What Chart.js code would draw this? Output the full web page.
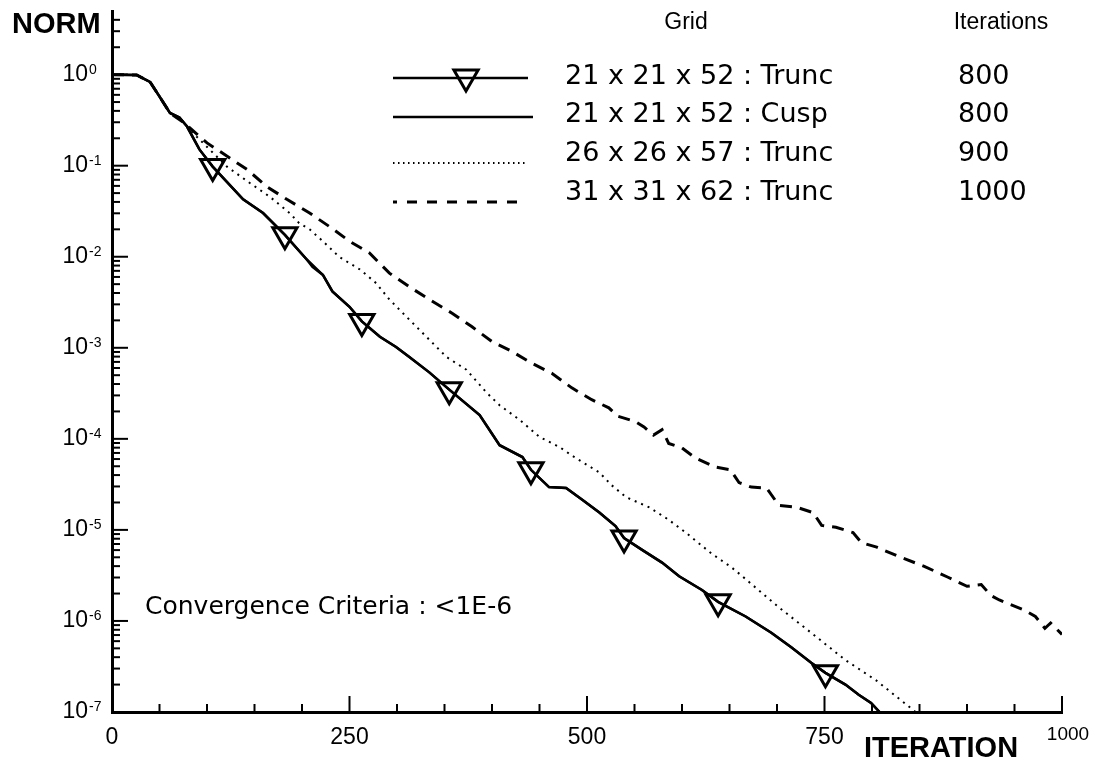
<!DOCTYPE html>
<html>
<head>
<meta charset="utf-8">
<title>Convergence history</title>
<script src="https://cdn.jsdelivr.net/npm/chart.js@4.4.1/dist/chart.umd.min.js"></script>
<style>
    html, body { margin: 0; padding: 0; background: #fff; }
    #wrap { width: 1097px; height: 765px; }
</style>
</head>
<body>
<div id="wrap"><canvas id="normChart" width="1097" height="765"></canvas></div>
<script>
// legend table: grid name + iterations column
const gridLabels = ['21 x 21 x 52 : Trunc', '21 x 21 x 52 : Cusp', '26 x 26 x 57 : Trunc', '31 x 31 x 62 : Trunc'];
const iterationCounts = ['800', '800', '900', '1000'];

// axis ticks
const xTickValues = [0, 250, 500, 750, 1000];
const yTickExponents = [0, -1, -2, -3, -4, -5, -6, -7];

// 21 x 21 x 52 : Trunc (solid, triangle markers)
const truncIter = [0, 26, 40, 50, 61, 71, 79, 92, 106, 138, 159, 182, 205, 211, 222, 232, 250, 263, 282, 299, 313, 334, 355, 387, 408, 432, 441, 460, 478, 495, 513, 530, 539, 558, 579, 597, 621, 638, 667, 694, 715, 736, 751, 772, 786, 799, 808];
const truncNorm = [1, 0.99, 0.832, 0.575, 0.38, 0.339, 0.269, 0.151, 0.0977, 0.0427, 0.0302, 0.0174, 0.00933, 0.00776, 0.00631, 0.00417, 0.00282, 0.00195, 0.00132, 0.00102, 7.94e-4, 5.37e-4, 3.47e-4, 1.82e-4, 8.51e-5, 6.31e-5, 4.57e-5, 2.95e-5, 2.88e-5, 2.14e-5, 1.55e-5, 1.10e-5, 8.13e-6, 6.03e-6, 4.37e-6, 3.09e-6, 2.19e-6, 1.62e-6, 1.12e-6, 7.41e-7, 5.13e-7, 3.47e-7, 2.69e-7, 2.0e-7, 1.55e-7, 1.26e-7, 1.0e-7];
const truncMarkers = [106, 182, 263, 355, 441, 539, 638, 751];

// 21 x 21 x 52 : Cusp (solid, lies on top of the Trunc curve)
const cuspIter = [0, 26, 40, 50, 61, 71, 79, 92, 106, 138, 159, 182, 205, 222, 232, 250, 263, 282, 299, 313, 334, 355, 387, 408, 432, 441, 460, 478, 495, 513, 530, 539, 558, 579, 597, 621, 638, 667, 694, 715, 736, 751, 772, 786, 799, 808];
const cuspNorm = [1, 0.99, 0.832, 0.575, 0.38, 0.339, 0.269, 0.151, 0.0977, 0.0427, 0.0302, 0.0174, 0.00933, 0.00631, 0.00417, 0.00282, 0.00195, 0.00132, 0.00102, 7.94e-4, 5.37e-4, 3.47e-4, 1.82e-4, 8.51e-5, 6.31e-5, 4.57e-5, 2.95e-5, 2.88e-5, 2.14e-5, 1.55e-5, 1.10e-5, 8.13e-6, 6.03e-6, 4.37e-6, 3.09e-6, 2.19e-6, 1.62e-6, 1.12e-6, 7.41e-7, 5.13e-7, 3.47e-7, 2.69e-7, 2.0e-7, 1.55e-7, 1.26e-7, 1.0e-7];

// 26 x 26 x 57 : Trunc (dotted)
const fineIter = [0, 26, 40, 50, 61, 75, 89, 121, 145, 166, 187, 197, 208, 222, 239, 261, 278, 292, 310, 331, 352, 373, 394, 408, 429, 450, 471, 488, 513, 526, 541, 565, 586, 604, 631, 652, 667, 702, 736, 772, 804, 846];
const fineNorm = [1, 0.99, 0.832, 0.575, 0.38, 0.30, 0.209, 0.0977, 0.0646, 0.0457, 0.0302, 0.0234, 0.02, 0.0148, 0.01, 0.00724, 0.00513, 0.00339, 0.00219, 0.00132, 7.94e-4, 5.75e-4, 3.24e-4, 2.34e-4, 1.62e-4, 1.05e-4, 8.13e-5, 6.17e-5, 4.27e-5, 3.09e-5, 2.29e-5, 1.78e-5, 1.29e-5, 9.33e-6, 5.5e-6, 3.89e-6, 2.88e-6, 1.41e-6, 7.41e-7, 3.72e-7, 2.24e-7, 1.0e-7];

// 31 x 31 x 62 : Trunc (dashed)
const finestIter = [0, 26, 40, 50, 61, 75, 100, 142, 163, 184, 208, 229, 250, 271, 292, 313, 334, 358, 379, 400, 421, 442, 463, 484, 505, 523, 532, 551, 560, 570, 579, 586, 600, 614, 635, 651, 660, 673, 689, 702, 720, 738, 747, 762, 780, 789, 805, 830, 855, 880, 900, 915, 925, 934, 960, 972, 982, 988, 1000];
const finestNorm = [1, 0.99, 0.832, 0.575, 0.38, 0.30, 0.178, 0.0912, 0.0589, 0.0427, 0.0302, 0.0214, 0.0148, 0.011, 0.00661, 0.00468, 0.00339, 0.0024, 0.0017, 0.00117, 9.12e-4, 6.76e-4, 5.25e-4, 3.63e-4, 2.69e-4, 2.19e-4, 1.78e-4, 1.55e-4, 1.35e-4, 1.10e-4, 1.26e-4, 8.91e-5, 7.94e-5, 6.17e-5, 4.9e-5, 4.57e-5, 3.31e-5, 2.95e-5, 2.88e-5, 1.86e-5, 1.78e-5, 1.55e-5, 1.12e-5, 1.07e-5, 9.33e-6, 7.24e-6, 6.46e-6, 5.01e-6, 3.98e-6, 3.02e-6, 2.4e-6, 2.51e-6, 1.91e-6, 1.7e-6, 1.32e-6, 1.12e-6, 8.3e-7, 9.5e-7, 7.1e-7];

function toPoints(xs, ys) {
    return xs.map((x, i) => ({ x: x, y: ys[i] }));
}

// legend rows (line y, text y)
const legendLineY = [78, 117, 163, 202];
const legendTextY = [77, 115, 154, 193];

// ticks, tick labels, axis names, legend table, note
const decorPlugin = {
    id: 'decor',
    afterDraw(chart) {
        const ctx = chart.ctx;
        const xs = chart.scales.x;
        const ys = chart.scales.y;
        const area = chart.chartArea;
        ctx.save();
        ctx.strokeStyle = '#000';
        ctx.fillStyle = '#000';
        ctx.lineWidth = 2;
        ctx.setLineDash([]);

        // x ticks point up into the plot
        for (let v = 0; v <= 1000; v += 50) {
            const px = xs.getPixelForValue(v);
            const len = xTickValues.includes(v) ? 16 : 8;
            ctx.beginPath();
            ctx.moveTo(px, area.bottom);
            ctx.lineTo(px, area.bottom - len);
            ctx.stroke();
        }
        // y ticks point right into the plot
        yTickExponents.forEach(e => {
            for (let k = 1; k <= 9; k++) {
                const v = k * Math.pow(10, e);
                if (v >= ys.max) break;
                const py = ys.getPixelForValue(v);
                const len = k === 1 ? 16 : 8;
                ctx.beginPath();
                ctx.moveTo(area.left, py);
                ctx.lineTo(area.left + len, py);
                ctx.stroke();
            }
        });

        // y labels 10^e
        yTickExponents.forEach(e => {
            const py = ys.getPixelForValue(Math.pow(10, e));
            ctx.font = '23px "Liberation Sans"';
            ctx.textAlign = 'right';
            ctx.textBaseline = 'middle';
            ctx.fillText('10', 88, py);
            ctx.font = '14px "Liberation Sans"';
            ctx.textAlign = 'left';
            ctx.textBaseline = 'top';
            ctx.fillText(String(e), 89, py - 12);
        });

        // x labels
        ctx.textAlign = 'center';
        ctx.textBaseline = 'middle';
        xTickValues.forEach(v => {
            const px = xs.getPixelForValue(v);
            if (v === 1000) {
                ctx.font = '19px "Liberation Sans"';
                ctx.fillText(String(v), px + 6, 735);
            } else {
                ctx.font = '23px "Liberation Sans"';
                ctx.fillText(String(v), px, 738);
            }
        });

        // axis names
        ctx.font = 'bold 29px "Liberation Sans"';
        ctx.textAlign = 'left';
        ctx.fillText('NORM', 12, 25);
        ctx.fillText('ITERATION', 864, 749);

        // note
        ctx.font = '25px "DejaVu Sans"';
        ctx.fillText('Convergence Criteria : <1E-6', 145, 607);

        // legend table
        ctx.font = '23px "Liberation Sans"';
        ctx.textAlign = 'center';
        ctx.fillText('Grid', 686, 23);
        ctx.fillText('Iterations', 1001, 23);
        ctx.font = '27px "DejaVu Sans"';
        chart.data.datasets.forEach((ds, i) => {
            const y = legendLineY[i];
            ctx.lineWidth = ds.borderWidth;
            ctx.setLineDash(ds.legendDash || []);
            ctx.lineDashOffset = ds.legendDashOffset || 0;
            ctx.beginPath();
            ctx.moveTo(393, y);
            ctx.lineTo(i === 3 ? 518 : (i === 1 ? 533 : 528), y);
            ctx.stroke();
            ctx.setLineDash([]);
            ctx.textAlign = 'left';
            ctx.fillText(gridLabels[i], 565, legendTextY[i]);
            ctx.fillText(iterationCounts[i], 958, legendTextY[i]);
        });
        // legend triangle for the marked series
        const r = 14, cx = 466, cy = 77;
        ctx.lineWidth = 3;
        ctx.beginPath();
        ctx.moveTo(cx, cy + r);
        ctx.lineTo(cx - r * Math.sin(Math.PI / 3), cy - r / 2);
        ctx.lineTo(cx + r * Math.sin(Math.PI / 3), cy - r / 2);
        ctx.closePath();
        ctx.stroke();
        ctx.restore();
    }
};

const normCtx = document.getElementById('normChart').getContext('2d');
new Chart(normCtx, {
    type: 'line',
    data: {
        datasets: [{
            label: gridLabels[0],
            data: toPoints(truncIter, truncNorm),
            borderColor: '#000',
            borderWidth: 2.5,
            pointStyle: 'triangle',
            rotation: 180,
            pointRadius: c => truncMarkers.includes(truncIter[c.dataIndex]) ? 14 : 0,
            pointBorderWidth: 3,
            pointBorderColor: '#000',
            pointBackgroundColor: 'rgba(0,0,0,0)',
            tension: 0,
        }, {
            label: gridLabels[1],
            data: toPoints(cuspIter, cuspNorm),
            borderColor: '#000',
            borderWidth: 2.5,
            pointRadius: 0,
            tension: 0,
        }, {
            label: gridLabels[2],
            data: toPoints(fineIter, fineNorm),
            borderColor: '#000',
            borderWidth: 2,
            borderDash: [2, 5],
            legendDash: [1.5, 3.5],
            pointRadius: 0,
            tension: 0,
        }, {
            label: gridLabels[3],
            data: toPoints(finestIter, finestNorm),
            borderColor: '#000',
            borderWidth: 3,
            borderDash: [12, 8],
            legendDash: [10, 10],
            legendDashOffset: 6,
            pointRadius: 0,
            tension: 0,
        }]
    },
    options: {
        responsive: false,
        animation: false,
        devicePixelRatio: 1,
        layout: { padding: { left: 112, right: 35, top: 11, bottom: 53 } },
        plugins: {
            legend: { display: false },
            tooltip: { enabled: false },
        },
        scales: {
            x: {
                type: 'linear',
                min: 0,
                max: 1000,
                grid: { display: false, drawTicks: false },
                border: { display: true, color: '#000', width: 3 },
                ticks: { display: false },
            },
            y: {
                type: 'logarithmic',
                min: 1e-7,
                max: 5,
                grid: { display: false, drawTicks: false },
                border: { display: true, color: '#000', width: 3 },
                ticks: { display: false },
            }
        }
    },
    plugins: [decorPlugin]
});
</script>
</body>
</html>
